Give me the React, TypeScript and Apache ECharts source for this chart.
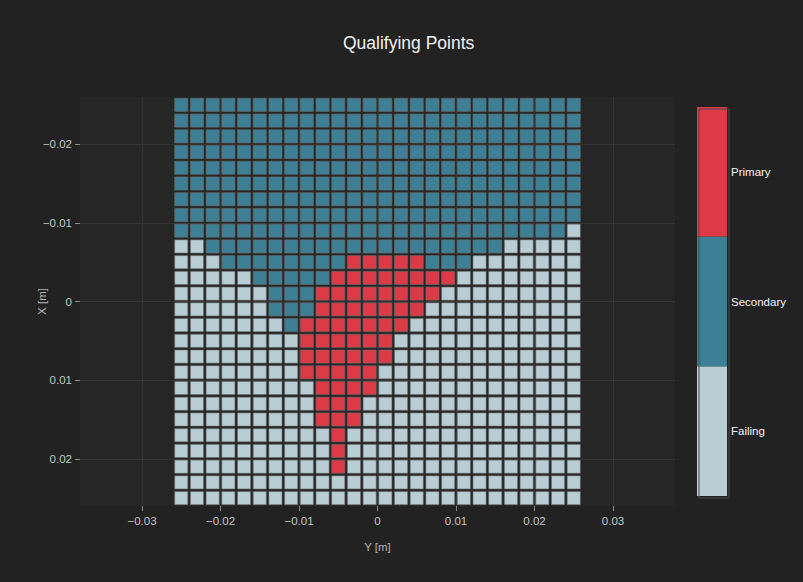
import React, { useEffect, useRef } from 'react';
import * as echarts from 'echarts';

// ---- data ----
const categories = ['Failing', 'Secondary', 'Primary'];
const categoryCodes = ['F', 'S', 'P'];
const categoryColors = ['#b8cdd4', '#3d7f94', '#dc3a47'];

const xCenters = [
  -0.025, -0.023, -0.021, -0.019, -0.017, -0.015, -0.013, -0.011, -0.009, -0.007, -0.005, -0.003, -0.001,
  0.001, 0.003, 0.005, 0.007, 0.009, 0.011, 0.013, 0.015, 0.017, 0.019, 0.021, 0.023, 0.025,
];
const yCenters = [
  -0.025, -0.023, -0.021, -0.019, -0.017, -0.015, -0.013, -0.011, -0.009, -0.007, -0.005, -0.003, -0.001,
  0.001, 0.003, 0.005, 0.007, 0.009, 0.011, 0.013, 0.015, 0.017, 0.019, 0.021, 0.023, 0.025,
];

// one string per row (top to bottom), one letter per column (left to right)
const statusRows = [
  'SSSSS' + 'SSSSS' + 'SSSSS' + 'SSSSS' + 'SSSSS' + 'S',
  'SSSSS' + 'SSSSS' + 'SSSSS' + 'SSSSS' + 'SSSSS' + 'S',
  'SSSSS' + 'SSSSS' + 'SSSSS' + 'SSSSS' + 'SSSSS' + 'S',
  'SSSSS' + 'SSSSS' + 'SSSSS' + 'SSSSS' + 'SSSSS' + 'S',
  'SSSSS' + 'SSSSS' + 'SSSSS' + 'SSSSS' + 'SSSSS' + 'S',
  'SSSSS' + 'SSSSS' + 'SSSSS' + 'SSSSS' + 'SSSSS' + 'S',
  'SSSSS' + 'SSSSS' + 'SSSSS' + 'SSSSS' + 'SSSSS' + 'S',
  'SSSSS' + 'SSSSS' + 'SSSSS' + 'SSSSS' + 'SSSSS' + 'S',
  'SSSSS' + 'SSSSS' + 'SSSSS' + 'SSSSS' + 'SSSSS' + 'F',
  'FF' + 'SSSSS' + 'SSSSS' + 'SSSSS' + 'SSSS' + 'FFFFF',
  'FFF' + 'SSSSSSSS' + 'PPPPP' + 'SSS' + 'FFFFFFF',
  'FFFFF' + 'SSSSS' + 'PPPPPPPP' + 'FFFFFFFF',
  'FFFFFF' + 'SSS' + 'PPPPPPPP' + 'FFFFFFFFF',
  'FFFFFF' + 'SSS' + 'PPPPPPP' + 'FFFFFFFFFF',
  'FFFFFFF' + 'S' + 'PPPPPPP' + 'FFFFFFFFFFF',
  'FFFFFFFF' + 'PPPPPP' + 'FFFFFFFFFFFF',
  'FFFFFFFF' + 'PPPPPP' + 'FFFFFFFFFFFF',
  'FFFFFFFF' + 'PPPPP' + 'FFFFFFFFFFFFF',
  'FFFFFFFFF' + 'PPPP' + 'FFFFFFFFFFFFF',
  'FFFFFFFFF' + 'PPP' + 'FFFFFFFFFFFFFF',
  'FFFFFFFFF' + 'PPP' + 'FFFFFFFFFFFFFF',
  'FFFFFFFFFF' + 'P' + 'FFFFFFFFFFFFFFF',
  'FFFFFFFFFF' + 'P' + 'FFFFFFFFFFFFFFF',
  'FFFFFFFFFF' + 'P' + 'FFFFFFFFFFFFFFF',
  'FFFFF' + 'FFFFF' + 'FFFFF' + 'FFFFF' + 'FFFFF' + 'F',
  'FFFFF' + 'FFFFF' + 'FFFFF' + 'FFFFF' + 'FFFFF' + 'F',
];

const xTicks = [-0.03, -0.02, -0.01, 0, 0.01, 0.02, 0.03];
const yTicks = [-0.02, -0.01, 0, 0.01, 0.02];
const xRange = [-0.0379, 0.0379];
const yRange = [-0.026, 0.026];
const cellSize = 0.002;

const FONT = '"Liberation Sans", Arial, Helvetica, sans-serif';

function fmt(v: number): string {
  const s = Number(v.toFixed(4)).toString();
  return s.replace('-', '\u2212');
}

export default function App() {
  const ref = useRef<HTMLDivElement>(null);

  useEffect(() => {
    if (!ref.current) return;
    const chart = echarts.init(ref.current, null, { renderer: 'svg' });

    const data: number[][] = [];
    statusRows.forEach((row, r) => {
      for (let c = 0; c < xCenters.length; c++) {
        data.push([xCenters[c], yCenters[r], categoryCodes.indexOf(row[c])]);
      }
    });

    const axisLabelStyle = { color: '#c4c4c4', fontSize: 11.5, fontFamily: FONT };

    const option: any = {
      animation: false,
      backgroundColor: '#222222',
      title: {
        text: 'Qualifying Points',
        left: 338,
        top: 29,
        textStyle: { color: '#f2f2f2', fontSize: 17.5, fontWeight: 'normal', fontFamily: FONT },
      },
      grid: {
        left: 80,
        top: 97,
        width: 595,
        height: 409,
        show: true,
        backgroundColor: '#262626',
        borderWidth: 0,
        outerBoundsMode: 'none',
      },
      xAxis: {
        type: 'value',
        min: xRange[0],
        max: xRange[1],
        splitNumber: 7,
        name: 'Y [m]',
        nameLocation: 'middle',
        nameGap: 35,
        nameMoveOverlap: false,
        nameTextStyle: { color: '#b4b4b4', fontSize: 11.5, fontFamily: FONT },
        axisLine: { show: false, onZero: false },
        axisTick: { show: true, length: 5, customValues: xTicks, lineStyle: { color: '#8a8a8a' } },
        axisLabel: { ...axisLabelStyle, margin: 9, customValues: xTicks, formatter: fmt },
        splitLine: { show: true, lineStyle: { color: '#343434', width: 1 } },
      },
      yAxis: {
        type: 'value',
        min: yRange[0],
        max: yRange[1],
        inverse: true,
        splitNumber: 5,
        name: 'X [m]',
        nameLocation: 'middle',
        nameGap: 32,
        nameMoveOverlap: false,
        nameRotate: 90,
        nameTextStyle: { color: '#b4b4b4', fontSize: 11.5, fontFamily: FONT },
        axisLine: { show: false, onZero: false },
        axisTick: { show: true, length: 5, customValues: yTicks, lineStyle: { color: '#8a8a8a' } },
        axisLabel: { ...axisLabelStyle, margin: 8, customValues: yTicks, formatter: fmt },
        splitLine: { show: true, lineStyle: { color: '#343434', width: 1 } },
      },
      visualMap: {
        type: 'piecewise',
        dimension: 2,
        seriesIndex: 0,
        orient: 'vertical',
        align: 'left',
        left: 697,
        top: 107,
        padding: 0,
        itemWidth: 30,
        itemHeight: 129.7,
        itemGap: 0,
        itemSymbol: 'rect',
        textGap: 4,
        selectedMode: false,
        hoverLink: false,
        textStyle: { color: '#f2f2f2', fontSize: 11.5, fontFamily: FONT },
        pieces: [
          { value: 2, label: categories[2], color: categoryColors[2] },
          { value: 1, label: categories[1], color: categoryColors[1] },
          { value: 0, label: categories[0], color: categoryColors[0] },
        ],
      },
      graphic: [
        {
          type: 'rect',
          left: 696.5,
          top: 106.5,
          shape: { width: 30, height: 389 },
          style: { fill: 'none', stroke: '#4a4a4a', lineWidth: 1 },
          silent: true,
          z: 100,
        },
      ],
      series: [
        {
          type: 'custom',
          encode: { x: 0, y: 1 },
          data,
          renderItem: (params: any, api: any) => {
            const x = api.value(0);
            const y = api.value(1);
            const p0 = api.coord([x - cellSize / 2, y - cellSize / 2]);
            const p1 = api.coord([x + cellSize / 2, y + cellSize / 2]);
            const left = Math.min(p0[0], p1[0]);
            const top = Math.min(p0[1], p1[1]);
            const w = Math.abs(p1[0] - p0[0]);
            const h = Math.abs(p1[1] - p0[1]);
            const inset = 1.3;
            return {
              type: 'rect',
              shape: { x: left + inset, y: top + inset, width: w - 2 * inset, height: h - 2 * inset },
              style: { fill: api.visual('color'), stroke: 'rgba(110,110,110,0.6)', lineWidth: 1 },
            };
          },
        },
      ],
    };

    chart.setOption(option);
    return () => chart.dispose();
  }, []);

  return (
    <div
      ref={ref}
      style={{ position: 'fixed', left: 0, top: 0, width: 803, height: 582 }}
    />
  );
}
